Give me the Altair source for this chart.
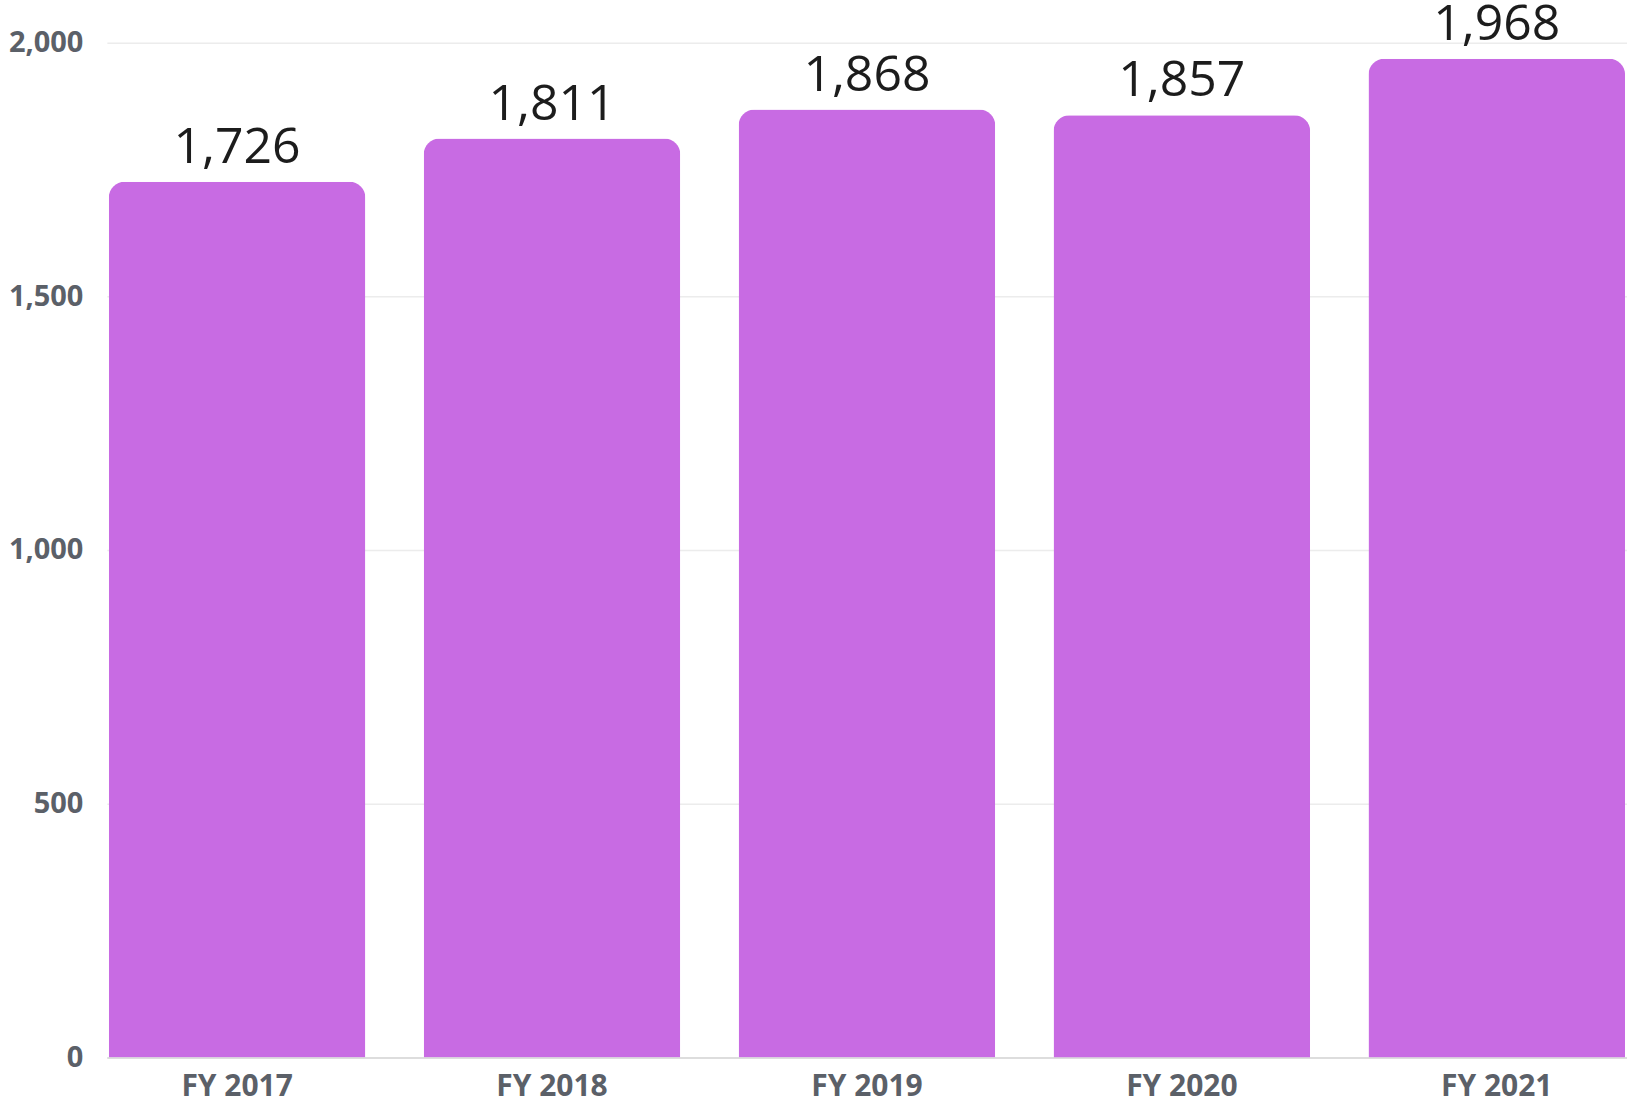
import altair as alt
import pandas as pd

# Fiscal years and their totals
years = ["FY 2017", "FY 2018", "FY 2019", "FY 2020", "FY 2021"]
totals = [1726, 1811, 1868, 1857, 1968]
y_ticks = [0, 500, 1000, 1500, 2000]

df = pd.DataFrame({"year": years, "total": totals})

FONT = "Open Sans"
BAR_COLOR = "#c86be3"
AXIS_TEXT = "#5b6068"

x_enc = alt.X(
    "year:N",
    sort=years,
    scale=alt.Scale(paddingInner=0.185, paddingOuter=0.006),
    axis=alt.Axis(
        title=None,
        labelAngle=0,
        labelFont=FONT,
        labelFontSize=30,
        labelFontWeight="bold",
        labelColor=AXIS_TEXT,
        labelPadding=14,
        ticks=False,
        domain=True,
        domainColor="#d6d6d6",
        domainWidth=1.5,
        grid=False,
    ),
)

y_enc = alt.Y(
    "total:Q",
    scale=alt.Scale(domain=[0, 2000], nice=False),
    axis=alt.Axis(
        title=None,
        values=y_ticks,
        format=",d",
        labelFont=FONT,
        labelFontSize=29,
        labelFontWeight="bold",
        labelColor=AXIS_TEXT,
        labelPadding=24,
        ticks=False,
        domain=False,
        grid=True,
        gridColor="#ececec",
        gridWidth=1.5,
    ),
)

bars = alt.Chart(df).mark_bar(
    color=BAR_COLOR,
    cornerRadiusTopLeft=16,
    cornerRadiusTopRight=16,
).encode(x=x_enc, y=y_enc)

labels = alt.Chart(df).mark_text(
    font=FONT,
    fontSize=50,
    color="#1c1c1c",
    baseline="alphabetic",
    dy=-19,
    clip=False,
).encode(
    x=alt.X("year:N", sort=years),
    y=alt.Y("total:Q"),
    text=alt.Text("total:Q", format=",d"),
)

chart = (
    alt.layer(bars, labels)
    .properties(
        width=1522,
        height=1016,
        padding={"left": 107, "top": 42, "right": 0, "bottom": 47},
        autosize="none",
        background="white",
    )
    .configure_view(stroke=None)
)

chart.save("out.html", embed_options={"renderer": "svg", "actions": False})
